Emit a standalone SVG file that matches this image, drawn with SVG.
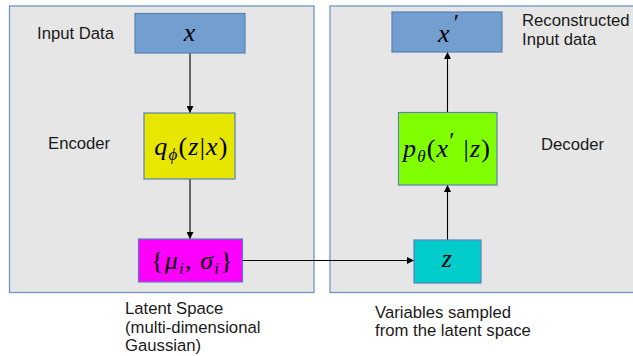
<svg xmlns="http://www.w3.org/2000/svg" width="633" height="356" viewBox="0 0 633 356">
<style>
.panel{fill:#e6e6e6;stroke:#7295c8;stroke-width:1.3}
.box{stroke:#5a80b8;stroke-width:1.2}
.lbl{font-family:"Liberation Sans",Arial,sans-serif;font-size:16.7px;fill:#1a1a1a}
.m{font-family:"Liberation Serif","Times New Roman",serif;font-size:26px;fill:#000;letter-spacing:1.2px}
.i{font-style:italic}
.s{font-size:17px}
.pr{font-size:24px}
.c{stroke:#000;stroke-width:1.1;fill:none}
</style>
<defs>
<marker id="ah" viewBox="0 0 10 10" refX="10" refY="5" markerWidth="7" markerHeight="7" markerUnits="userSpaceOnUse" orient="auto">
<path d="M0,0 L10,5 L0,10 z" fill="#000"/>
</marker>
</defs>
<g id="encoder-panel"><rect class="panel" x="9.5" y="6" width="304.5" height="286.5"/></g>
<g id="decoder-panel"><rect class="panel" x="330" y="6" width="310" height="286.5"/></g>

<g id="connectors">
<line class="c" x1="190" y1="53" x2="190" y2="113" marker-end="url(#ah)"/>
<line class="c" x1="190" y1="179" x2="190" y2="239" marker-end="url(#ah)"/>
<line class="c" x1="242" y1="260.5" x2="414" y2="260.5" marker-end="url(#ah)"/>
<line class="c" x1="447.5" y1="240" x2="447.5" y2="185" marker-end="url(#ah)"/>
<line class="c" x1="447.5" y1="112" x2="447.5" y2="52" marker-end="url(#ah)"/>
</g>

<g id="node-x">
<rect class="box" x="135" y="13.5" width="110" height="39.5" fill="#729fcf"/>
<text class="m i" x="190" y="41" text-anchor="middle">x</text>
</g>
<g id="node-q">
<rect class="box" x="144" y="113" width="91" height="66" fill="#e6e600"/>
<text class="m" x="191.5" y="155" text-anchor="middle"><tspan class="i">q</tspan><tspan class="i s" dy="5">ϕ</tspan><tspan dy="-5">(</tspan><tspan class="i">z</tspan><tspan>|</tspan><tspan class="i">x</tspan><tspan>)</tspan></text>
</g>
<g id="node-mu">
<rect class="box" x="138.5" y="239" width="104" height="43" fill="#ff00ff"/>
<text class="m" x="192.5" y="269" text-anchor="middle">{<tspan class="i">μ</tspan><tspan class="i s" dy="5">i</tspan><tspan dy="-5">, </tspan><tspan class="i">σ</tspan><tspan class="i s" dy="5">i</tspan><tspan dy="-5">}</tspan></text>
</g>
<g id="node-z">
<rect class="box" x="414" y="240" width="67" height="43" fill="#00cccc"/>
<text class="m i" x="447.5" y="267" text-anchor="middle">z</text>
</g>
<g id="node-p">
<rect class="box" x="398.5" y="112.5" width="98.5" height="72.5" fill="#80ff00"/>
<text class="m" x="447" y="157" text-anchor="middle"><tspan class="i">p</tspan><tspan class="i s" dy="5">θ</tspan><tspan dy="-5">(</tspan><tspan class="i">x</tspan><tspan class="pr" dy="-9">′</tspan><tspan dy="9"> |</tspan><tspan class="i">z</tspan><tspan>)</tspan></text>
</g>
<g id="node-xp">
<rect class="box" x="392" y="12" width="110" height="40" fill="#729fcf"/>
<text class="m" x="438" y="42"><tspan class="i">x</tspan><tspan class="pr" dx="3" dy="-12">′</tspan></text>
</g>

<g id="labels">
<text class="lbl" x="37" y="38.5">Input Data</text>
<text class="lbl" x="48" y="149">Encoder</text>
<text class="lbl" x="522" y="26">Reconstructed</text>
<text class="lbl" x="522" y="45">Input data</text>
<text class="lbl" x="541" y="150">Decoder</text>
<text class="lbl" x="125" y="314">Latent Space</text>
<text class="lbl" x="125" y="332.5">(multi-dimensional</text>
<text class="lbl" x="125" y="351">Gaussian)</text>
<text class="lbl" x="375" y="317.5">Variables sampled</text>
<text class="lbl" x="375" y="336">from the latent space</text>
</g>
</svg>
